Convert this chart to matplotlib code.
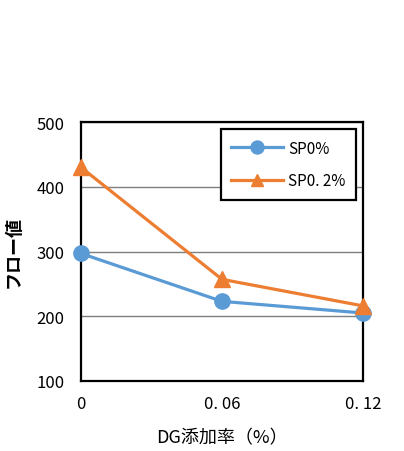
import matplotlib.pyplot as plt

plt.rcParams['font.family'] = ['Noto Sans CJK JP', 'DejaVu Sans']

# DG addition rate (%) and flow values
x_pos = [0, 0.06, 0.12]
x_labels = ['0', '0. 06', '0. 12']
sp0 = [297, 223, 205]
sp02 = [430, 257, 216]
series_names = ['SP0%', 'SP0. 2%']

fig = plt.figure(figsize=(4.04, 4.52), dpi=100)
ax = fig.add_axes([81 / 404, 1 - 382 / 452, 282 / 404, 259 / 452])

ax.plot(x_pos, sp0, '-o', color='#5B9BD5', lw=2.3, ms=11, label=series_names[0],
        clip_on=False, zorder=3)
ax.plot(x_pos, sp02, '-^', color='#ED7D31', lw=2.3, ms=11, label=series_names[1],
        clip_on=False, zorder=4)

ax.set_xlim(0, 0.12)
ax.set_ylim(100, 500)
ax.set_xticks(x_pos)
ax.set_xticklabels(x_labels)
ax.set_yticks([100, 200, 300, 400, 500])
ax.tick_params(length=0, labelsize=12, pad=10)
ax.tick_params(axis='y', pad=12)
ax.yaxis.grid(True, color='#7f7f7f', lw=1)
ax.set_axisbelow(True)
for s in ax.spines.values():
    s.set_linewidth(1.6)
    s.set_color('black')

ax.set_ylabel('フロー値', fontsize=13, fontweight='bold', labelpad=10)
ax.set_xlabel('DG添加率（%）', fontsize=13, labelpad=12)

leg = ax.legend(loc='upper right', bbox_to_anchor=(0.975, 0.973), borderaxespad=0,
                fontsize=11, fancybox=False, framealpha=1, edgecolor='black',
                markerscale=0.85, handlelength=3.4, borderpad=0.7,
                labelspacing=1.0, handletextpad=0.3)
leg.get_frame().set_linewidth(1.6)

fig.savefig('out.png', dpi=100)
